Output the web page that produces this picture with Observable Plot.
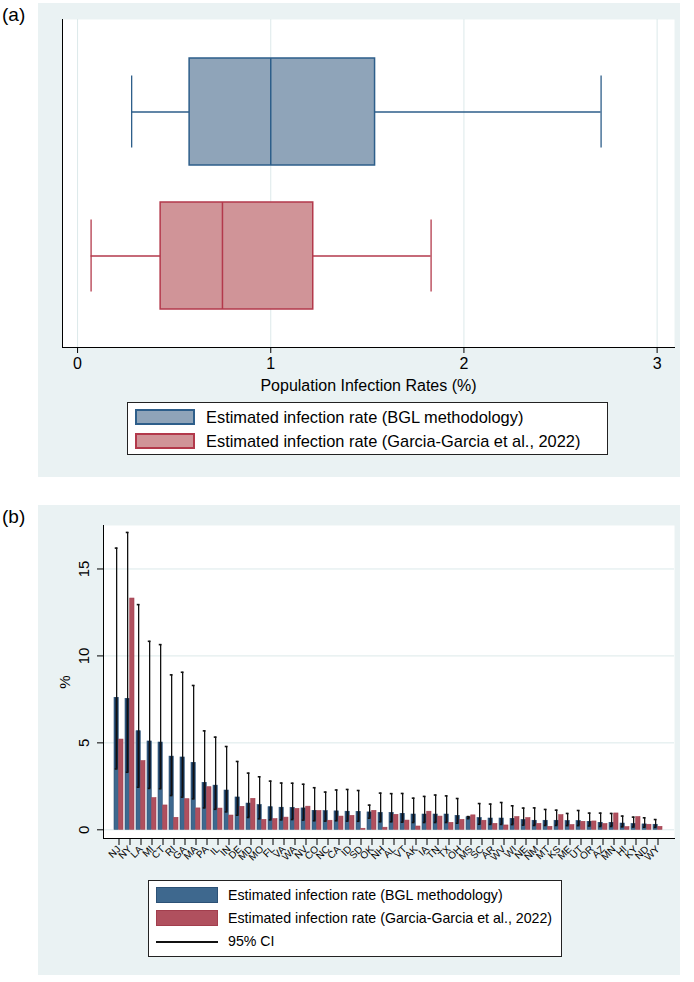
<!DOCTYPE html>
<html>
<head>
<meta charset="utf-8">
<script src="https://cdn.jsdelivr.net/npm/d3@7"></script>
<script src="https://cdn.jsdelivr.net/npm/@observablehq/plot@0.6"></script>
<style>
  body { margin:0; width:694px; height:982px; position:relative; background:#fff;
         font-family:"Liberation Sans", Arial, Helvetica, sans-serif; color:#000; }
  .panel { position:absolute; left:38px; width:642px; background:#eaf2f3; }
  .plab { position:absolute; left:2px; font-size:19px; }
  .legend { position:absolute; background:#fff; border:1px solid #222; box-sizing:border-box; }
  .sw { box-sizing:border-box; }
  svg { display:block; }
</style>
</head>
<body>
<div class="plab" style="top:4px">(a)</div>
<div class="panel" id="pa" style="top:3px;height:474px"></div>
<div class="plab" style="top:506px">(b)</div>
<div class="panel" id="pb" style="top:505px;height:470px"></div>
<script>
// ---------- Panel (a): box plot summary values ----------
const boxSeries = ["Estimated infection rate (BGL methodology)",
                   "Estimated infection rate (Garcia-Garcia et al., 2022)"];
const whiskerLow  = [0.28, 0.07];
const quartile1   = [0.58, 0.43];
const medians     = [1.00, 0.75];
const quartile3   = [1.54, 1.22];
const whiskerHigh = [2.71, 1.83];
const boxTicks = [0, 1, 2, 3];

// ---------- Panel (b): state values ----------
const states = ["NJ","NY","LA","MI","CT","RI","GA","MA","PA","IL","IN","DE","MD","MO","FL","VA","WA","NV","CO","NC",
                "CA","ID","SD","OK","NH","AL","VT","AK","IA","TN","TX","OH","MS","SC","AR","WV","WI","NE","NM","MT",
                "KS","ME","UT","OR","AZ","MN","HI","KY","ND","WY"];
const bglRate = [7.59,7.53,5.67,5.08,5.02,4.21,4.16,3.85,2.70,2.54,2.26,1.86,1.51,1.42,1.30,1.27,1.26,1.23,1.09,1.07,
                 1.06,1.04,1.03,1.00,0.97,0.97,0.92,0.88,0.88,0.88,0.88,0.80,0.72,0.67,0.65,0.65,0.63,0.56,0.52,0.52,
                 0.52,0.50,0.50,0.46,0.40,0.40,0.36,0.33,0.31,0.29];
const garciaRate = [5.19,13.3,3.95,1.82,1.40,0.69,1.76,1.23,2.45,1.22,0.82,1.32,1.78,0.57,0.61,0.70,1.20,1.33,1.08,0.52,
                    0.76,0.80,0.06,1.09,0.12,0.86,0.53,0.19,1.04,0.76,0.40,0.57,0.83,0.52,0.34,0.25,0.73,0.67,0.34,0.17,
                    0.84,0.27,0.46,0.48,0.33,0.94,0.15,0.73,0.29,0.17];
const ciHigh = [16.2,17.1,12.95,10.84,10.65,8.91,9.06,8.30,5.69,5.33,4.79,3.93,3.26,3.05,2.80,2.69,2.68,2.62,2.42,2.17,
                2.29,2.32,2.26,1.42,2.11,2.08,2.09,1.82,1.92,2.00,1.95,1.80,0.76,1.51,1.48,1.57,1.38,1.25,1.26,1.17,
                1.13,0.94,1.11,0.96,0.96,0.94,0.79,0.73,0.69,0.59];
const ciLow = [3.50,3.31,2.45,2.38,2.36,1.97,1.88,1.78,1.26,1.18,1.03,0.84,0.71,0.63,0.57,0.57,0.59,0.56,0.52,0.50,
               0.52,0.50,0.49,0.67,0.46,0.46,0.44,0.42,0.42,0.42,0.42,0.38,0.64,0.32,0.31,0.31,0.30,0.27,0.25,0.25,
               0.25,0.24,0.24,0.22,0.19,0.19,0.17,0.16,0.15,0.14];
const barTicks = [0, 5, 10, 15];

const FONT = '"Liberation Sans", Arial, Helvetica, sans-serif';
const boxFill   = ["#8fa4b9", "#d09498"];
const boxStroke = ["#2d5e8a", "#b3394b"];
const barBlue = "#3e688e", barBlueEdge = "#2c5176";
const barRed  = "#b0505e", barRedEdge = "#a23e4d";
const gridCol = "#dce9ea";

// ---- Panel (a)
const boxData = boxSeries.map((s, i) => ({series: s, lo: whiskerLow[i], q1: quartile1[i],
  med: medians[i], q3: quartile3[i], hi: whiskerHigh[i], i}));

const boxMarks = [];
boxData.forEach((d) => {
  const one = [d];
  const st = boxStroke[d.i], fi = boxFill[d.i];
  boxMarks.push(
    Plot.ruleY(one, {y: "series", x1: "lo", x2: "q1", stroke: st, strokeWidth: 1.3}),
    Plot.ruleY(one, {y: "series", x1: "q3", x2: "hi", stroke: st, strokeWidth: 1.3}),
    Plot.tickX(one, {y: "series", x: "lo", stroke: st, strokeWidth: 1.3, insetTop: 17.5, insetBottom: 17.5}),
    Plot.tickX(one, {y: "series", x: "hi", stroke: st, strokeWidth: 1.3, insetTop: 17.5, insetBottom: 17.5}),
    Plot.barX(one, {y: "series", x1: "q1", x2: "q3", fill: fi, stroke: st, strokeWidth: 1.5}),
    Plot.tickX(one, {y: "series", x: "med", stroke: st, strokeWidth: 1.5})
  );
});

const plotA = Plot.plot({
  width: 642, height: 398, marginLeft: 24, marginRight: 6, marginTop: 16, marginBottom: 54,
  style: {background: "transparent", fontFamily: FONT, fontSize: "16px", color: "#000", overflow: "visible"},
  x: {domain: [-0.078, 3.09]},
  y: {domain: boxSeries, paddingInner: 0.257, paddingOuter: 0.265, axis: null},
  marks: [
    Plot.frame({fill: "white", stroke: null}),
    Plot.gridX(boxTicks, {stroke: gridCol, strokeOpacity: 1}),
    ...boxMarks,
    Plot.axisX(boxTicks, {tickSize: 6, tickPadding: 4, fontSize: 16, tickFormat: d3.format("d"),
      label: "Population Infection Rates (%)", labelAnchor: "center", labelOffset: 43, labelArrow: "none"}),
    Plot.frame({anchor: "left", stroke: "#000"}),
    Plot.frame({anchor: "bottom", stroke: "#000"})
  ]
});
document.getElementById("pa").appendChild(plotA);

// ---- Panel (b)
const rows = states.map((s, i) => ({state: s, bgl: bglRate[i], garcia: garciaRate[i], lo: ciLow[i], hi: ciHigh[i]}));
const plotWidthB = 642 - 65 - 6;
const pIn = 0.15, pOut = 0.78;
const stepB = plotWidthB / (states.length - pIn + 2 * pOut);
const bw = stepB * (1 - pIn);
const half = bw / 2;

const plotB = Plot.plot({
  width: 642, height: 372, marginLeft: 65, marginRight: 6, marginTop: 20, marginBottom: 39,
  style: {background: "transparent", fontFamily: FONT, fontSize: "15px", color: "#000", overflow: "visible"},
  x: {domain: states, paddingInner: pIn, paddingOuter: pOut},
  y: {domain: [-0.5, 17.5]},
  marks: [
    Plot.frame({fill: "white", stroke: null}),
    Plot.gridY(barTicks, {stroke: gridCol, strokeOpacity: 1}),
    Plot.barY(rows, {x: "state", y1: 0, y2: "bgl", fill: barBlue, stroke: barBlueEdge, strokeWidth: 0.6, insetRight: half}),
    Plot.barY(rows, {x: "state", y1: 0, y2: "garcia", fill: barRed, stroke: barRedEdge, strokeWidth: 0.6, insetLeft: half}),
    Plot.barY(rows, {x: "state", y1: "lo", y2: d => Math.min(d.bgl, d.hi), fill: "#152f4f", insetLeft: 0.8, insetRight: half + 0.4}),
    Plot.ruleX(rows, {x: "state", y1: "lo", y2: "hi", dx: -half / 2, stroke: "#111", strokeWidth: 1.3}),
    Plot.tickY(rows, {x: "state", y: "hi", stroke: "#111", strokeWidth: 1.6, insetLeft: half / 2 - 1.6, insetRight: bw - half / 2 - 1.6}),
    Plot.tickY(rows, {x: "state", y: "lo", stroke: "#111", strokeWidth: 1.6, insetLeft: half / 2 - 1.6, insetRight: bw - half / 2 - 1.6}),
    Plot.axisY(barTicks, {tickSize: 6, tickPadding: 9, tickRotate: -90, fontSize: 15,
      label: "%", labelAnchor: "center", labelOffset: 44, labelArrow: "none"}),
    Plot.axisX({tickSize: 7, tickPadding: 2, tickRotate: -45, fontSize: 10, label: null}),
    Plot.frame({anchor: "left", stroke: "#000"}),
    Plot.frame({anchor: "bottom", stroke: "#000"})
  ]
});
document.getElementById("pb").appendChild(plotB);

// ---- Legends (HTML)
function makeLegend(parent, left, top, width, height, fontSize, textLeft, items) {
  const box = document.createElement("div");
  box.className = "legend";
  Object.assign(box.style, {left: left + "px", top: top + "px", width: width + "px", height: height + "px", fontSize: fontSize + "px"});
  items.forEach(it => {
    const sw = document.createElement("div");
    sw.className = "sw";
    Object.assign(sw.style, {position: "absolute", left: "7px", top: it.swTop + "px"}, it.sw);
    const tx = document.createElement("div");
    tx.textContent = it.label;
    Object.assign(tx.style, {position: "absolute", left: textLeft + "px", top: (it.center - fontSize * 0.6) + "px",
      lineHeight: (fontSize * 1.2) + "px", whiteSpace: "nowrap"});
    box.appendChild(sw); box.appendChild(tx);
  });
  document.getElementById(parent).appendChild(box);
}
makeLegend("pa", 89, 399, 481, 53, 16.4, 78, [
  {label: boxSeries[0], swTop: 6, center: 15, sw: {width: "60px", height: "16px", background: boxFill[0], border: "2px solid " + boxStroke[0]}},
  {label: boxSeries[1], swTop: 30, center: 39, sw: {width: "60px", height: "16px", background: boxFill[1], border: "2px solid " + boxStroke[1]}}
]);
makeLegend("pb", 110, 375, 414, 77, 14.2, 79, [
  {label: boxSeries[0], swTop: 6, center: 15, sw: {width: "62px", height: "16px", background: barBlue, border: "1px solid " + barBlueEdge}},
  {label: boxSeries[1], swTop: 29, center: 38, sw: {width: "62px", height: "16px", background: barRed, border: "1px solid " + barRedEdge}},
  {label: "95% CI", swTop: 60, center: 61, sw: {width: "62px", height: "1.5px", background: "#111"}}
]);
</script>
</body>
</html>
